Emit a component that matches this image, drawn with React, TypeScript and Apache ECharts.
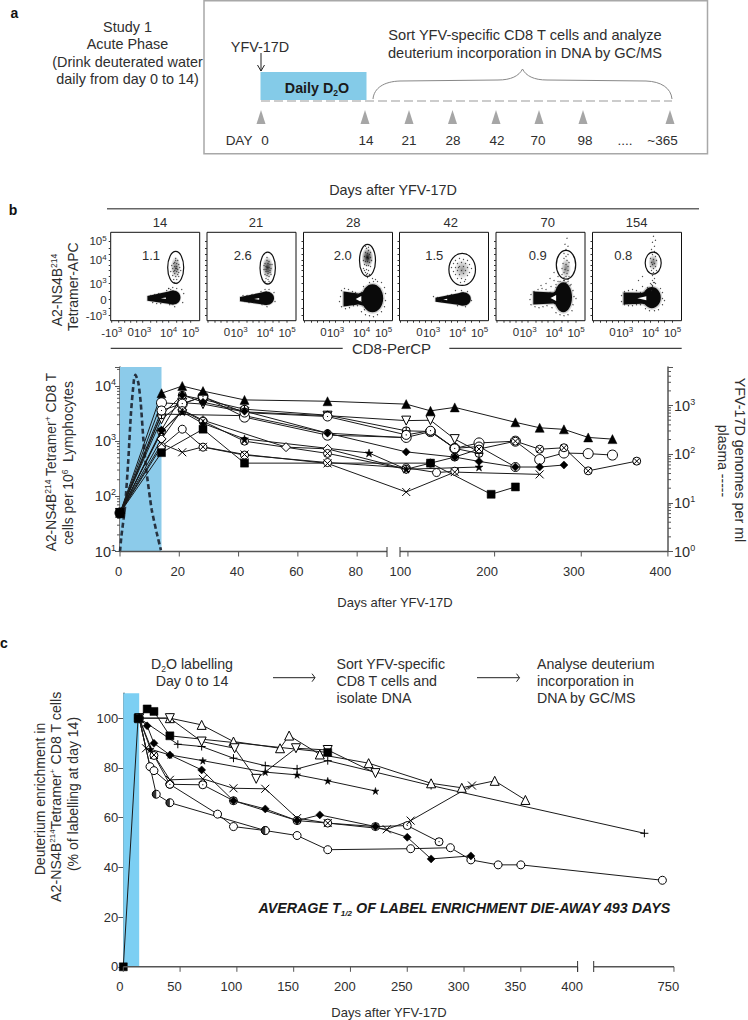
import React, { useEffect, useRef } from "react";
import * as echarts from "echarts";

// ---------- panel a / titles ----------
const scheduleDays = ["0", "14", "21", "28", "42", "70", "98", "....", "~365"];
const facsTitles = ["14", "21", "28", "42", "70", "154"];
const facsGatePct = ["1.1", "2.6", "2.0", "1.5", "0.9", "0.8"];

// ---------- panel b flow plots (channel units on a biexponential display) ----------
const facsLefts = [110.7, 207, 303.5, 399.5, 496, 592.5];
const facsXLabelAt = [1, 20, 32, 58, 80];
const facsXLabels = ["-10{s|3}", "0", "10{s|3}", "10{s|4}", "10{s|5}"];
const facsYLabelAt = [5, 21, 37, 60, 79];
const facsYLabels = ["-10{s|3}", "0", "10{s|3}", "10{s|4}", "10{s|5}"];
const facsMinorX = [8, 14, 26, 40, 46, 52, 66, 72];
const facsMinorY = [12, 29, 44, 50, 55, 66, 72];
// cx, cy, rx, ry
const gates = [
  [65, 53, 8, 16],
  [60.7, 52.4, 7.7, 16],
  [64, 60, 8, 16],
  [62.7, 51, 13.3, 16],
  [70, 55.7, 9.7, 14.3],
  [60.7, 57.4, 8, 11],
];
// density core of each gate: cx, cy, rx, ry, opacity
const gateCores = [
  [65, 53, 5, 11, 0.55],
  [60.7, 53, 5.5, 11, 0.8],
  [64, 63, 6, 10, 0.95],
  [62.7, 51, 8, 10, 0.4],
  [70, 52, 5, 10, 0.5],
  [60.7, 58, 5, 8, 0.55],
];
// tail start x, tail half height, body cx, cy, rx, ry, hole x, hole half w, hole half h, halo
const populations = [
  [36.7, 2.4, 62.7, 23, 7, 7, 52.7, 2.5, 0.8, 0.8],
  [33, 2.2, 59.7, 22.3, 7.3, 6.7, 49.7, 2.5, 0.8, 0.8],
  [40, 7.5, 69, 22.3, 10.7, 14, 55, 2.8, 3, 1.5],
  [36, 2, 64, 21.7, 7.3, 6.7, 45.7, 2, 0.8, 0.8],
  [37.3, 6.5, 67.3, 23.3, 8.7, 15, 57.3, 2.8, 3, 1.5],
  [31, 6, 59.3, 23, 9, 10.7, 49.3, 4.5, 2, 1.5],
];
const gateDots = [
  [[65,60],[63,57],[66,57],[68,56],[64,54],[66,54],[62,52],[65,52],[67,51],[69,53],[63,49],[66,49],[64,47],[67,46],[62,45],[65,44],[68,48],[61,55],[70,50],[65,62],[67,60],[63,41],[66,41],[64,58],[66,52],[64,50],[68,44],[60,49],[64,38],[66,37],[62,33],[58,32]],
  [[60,60],[62,59],[58,57],[61,57],[63,56],[59,54],[60,53],[62,53],[64,52],[57,51],[59,49],[61,49],[63,48],[58,46],[60,45],[62,44],[64,46],[59,42],[61,41],[57,55],[65,56],[60,63],[62,39],[58,39],[61,47],[59,51],[63,50],[60,37]],
  [[63,72],[65,70],[62,68],[64,67],[66,66],[61,64],[63,63],[65,62],[67,63],[60,60],[62,59],[64,59],[66,58],[68,60],[61,56],[63,55],[65,55],[67,54],[60,52],[63,51],[65,50],[62,48],[64,47],[66,46],[61,50],[63,46],[64,43],[65,73],[62,74],[67,68]],
  [[56,60],[60,62],[64,61],[68,60],[54,57],[58,57],[62,58],[66,57],[70,56],[52,53],[56,53],[60,54],[64,54],[68,53],[72,52],[54,49],[58,50],[62,50],[66,50],[70,48],[56,46],[60,46],[64,47],[68,45],[58,42],[62,42],[66,41],[61,38],[65,39],[59,53]],
  [[71,82],[69,76],[72,74],[70,71],[68,67],[72,66],[70,64],[68,62],[71,60],[73,58],[67,57],[70,56],[72,54],[66,52],[69,51],[72,50],[68,48],[71,47],[66,46],[70,44],[73,44],[68,43],[62,44],[58,48],[54,42],[72,41],[68,40],[70,38],[60,36],[74,35],[64,39]],
  [[61,84],[63,80],[60,78],[62,74],[59,71],[62,69],[60,66],[63,64],[58,62],[61,61],[64,60],[59,58],[62,57],[60,56],[63,54],[58,54],[61,52],[64,50],[59,50],[61,48],[63,47],[60,45],[62,42],[60,40],[61,38],[63,37],[59,36],[50,44],[46,40],[60,34]],
];
// stray events around the lymphocyte populations
const fringeDots = [
  [[40,25],[44,26],[48,27],[42,18],[46,17],[50,17],[56,30],[58,32],[60,31],[66,32],[71,31],[73,27],[72,18],[64,14],[59,16]],
  [[36,25],[40,25],[45,26],[38,19],[42,18],[47,18],[54,29],[58,31],[62,31],[67,28],[68,19],[60,14],[55,16]],
  [[38,30],[41,32],[45,31],[49,29],[52,28],[37,24],[36,19],[38,14],[42,12],[46,13],[50,15],[54,15],[58,9],[62,6],[66,5],[70,4],[74,6],[78,9],[81,14],[82,20],[82,27],[81,33],[78,38],[60,34],[58,28],[66,38],[70,39],[74,39],[57,19],[61,11],[54,26],[72,41],[69,42]],
  [[34,24],[38,23],[42,19],[48,25],[52,26],[56,30],[62,30],[68,29],[72,20],[66,14],[58,15]],
  [[35,26],[38,29],[42,31],[46,32],[50,31],[54,28],[34,21],[35,16],[39,14],[43,13],[47,14],[51,15],[56,13],[60,8],[64,6],[68,5],[72,6],[76,10],[77,16],[78,24],[77,30],[75,36],[60,33],[55,34],[50,37],[62,39],[68,40],[72,39],[58,40],[45,35],[80,22],[56,19]],
  [[29,25],[32,29],[36,30],[40,31],[44,30],[48,28],[29,19],[32,16],[36,15],[40,15],[44,16],[48,16],[53,12],[57,10],[62,10],[66,11],[70,16],[70,22],[70,28],[68,32],[60,35],[58,37],[62,38],[55,33],[50,34],[59,30],[72,20]],
];

// ---------- panel b main plot: days after vaccination, cells per 10^6 lymphocytes ----------
const bXTicks = [0, 20, 40, 60, 80, 100, 200, 300, 400];
const bTriFilled = [[0,50],[14,7400],[21,10000],[28,8100],[42,5600],[70,5300],[98,4700],[126,3550],[154,4100],[224,2200],[252,1750],[280,1640],[308,1170],[336,1090]];
const bSquare = [[0,50],[14,620],[28,1650],[42,400],[126,400],[196,109],[224,148]];
const bCircleLarge = [[0,50],[14,4980],[21,4700],[28,6500],[42,2730],[70,1285],[98,1170],[126,1490],[154,740],[182,930],[224,1000],[252,465],[280,610],[308,595],[336,560]];
const bCircleSmall = [[0,50],[14,800],[21,1650],[28,780],[42,560],[70,410],[98,330],[133,270],[154,285]];
const bCross = [[0,50],[14,900],[21,630],[28,790],[42,575],[70,395],[98,120],[154,275],[252,250]];
const bDiamondFilled = [[0,50],[14,1600],[21,6860],[28,5100],[42,3500],[70,1400],[98,640],[154,515],[182,430],[224,340],[252,340],[280,370]];
const bCircleCross = [[0,50],[14,1500],[21,3600],[28,2300],[42,1000],[70,600],[98,310],[126,400],[154,515],[182,720],[224,1000],[252,715],[280,760],[308,290],[364,435]];
const bCirclePlus = [[0,50],[14,3000],[21,6800],[28,5700],[42,3800],[70,2960],[98,1540],[126,1500],[154,740],[182,600]];
const bTriDown = [[0,50],[14,2500],[21,5000],[28,4700],[42,3400],[70,2900],[98,2360],[126,2400],[154,1090],[182,640]];
const bDiamondOpen = [[0,50],[14,1100],[21,3700],[28,2400],[56,780],[70,725],[98,310]];
const bStar = [[0,50],[14,1500],[21,3400],[28,2100],[42,1100],[84,610],[98,310],[182,340]];
const bDot = [[0,50],[14,3600],[21,4800],[28,6400],[42,3300],[70,2800],[98,1300],[126,1550],[154,740],[182,800],[224,340]];
const bFlat = [[0,50],[14,3100],[42,2900],[70,1400],[98,1150]];
const bStart = [[0,50]];
const bViral = [[0,1],[0.45,2],[1.7,8.4],[2.8,76],[3.7,700],[4.7,3360],[5.2,4270],[6.2,2900],[7,1130],[7.9,197],[9,41],[10.7,7.2],[12.4,2.4],[13.8,1.07]];
const bMinorLeft = [20,30,40,50,60,70,80,90,200,300,400,500,600,700,800,900,2000,3000,4000,5000,6000,7000,8000,9000,20000];
const bMinorRight = [2,3,4,5,6,7,8,9,20,30,40,50,60,70,80,90,200,300,400,500,600,700,800,900,2000,3000,4000,5000];
const labelWindow = [[0, 14]];

// ---------- panel c: days after vaccination, % of labelling at day 14 ----------
const cXTicks = [0, 50, 100, 150, 200, 250, 300, 350, 400, 750];
const cYTicks = [0, 20, 40, 60, 80, 100];
const cSquare = [[0,0],[13,100],[21,103.7],[27,102.7],[41,92.9],[180,86.2]];
const cTriUp = [[14,100],[41,100],[69,97.3],[97,90.6],[138,87.9],[146,93],[173,85.4],[216,81.9],[271,73.8],[298,72],[327,74.8],[354,67.1]];
const cTriDown = [[14,100],[41,100],[69,90.6],[98,87.9],[117,75.6],[152,87.9],[180,87.2],[222,77.9]];
const cPlus = [[14,100],[48,89.5],[69,88.6],[97,83.9],[125,80.9],[153,79.6],[180,82.9],[271,72.9],[640,53.7]];
const cStar = [[14,100],[24,87.5],[41,85.2],[70,82.9],[125,78.3],[153,77.2],[180,74.8],[222,70.7]];
const cDiamond = [[14,100],[21,96.9],[27,89.9],[41,85.2],[69,79.2],[97,66.8],[125,63.5],[153,58.8],[173,61.1],[222,56.4],[250,52.1],[271,43.4],[306,44.6]];
const cDot = [[14,100],[27,85],[41,73.4],[70,73.2],[97,66.8],[153,58.8],[180,57.8],[222,56.4],[250,56.8],[278,50.3]];
const cHalf = [[14,100],[29,69.4],[41,66],[125,54.8]];
const cOpen = [[14,100],[23.5,80.5],[27,78.9],[41,73.4],[83,61.4],[97,56.4],[125,54.8],[153,52.8],[180,47.1],[253,47.5],[288,47.9],[306,43],[330,41],[350,41],[707,34.8]];
const cCross = [[14,100],[20,87.9],[27,85.2],[41,75.2],[70,75.6],[97,71.8],[125,71.6],[153,59.8],[180,57.8],[232,55.3],[253,58.8],[307,72.9]];

const FONT = "Liberation Sans, Arial, sans-serif";
const INK = "#2e2e2e";
const AXIS = "#555555";
const HIDDEN_LINE = { show: false, onZero: false };

// broken x axes: left segment keeps days, right segment is compressed
const toB = (d: number) => (d <= 90 ? d : 94.5 + (d - 91) * 0.2923);
const toC = (d: number) => (d <= 400 ? d : 413.8 + (d - 450) * 0.2367);

const SYM = {
  cross: "path://M0 0L10 10M10 0L0 10",
  circleCross: "path://M0 5A5 5 0 1 1 10 5A5 5 0 1 1 0 5ZM1.5 1.5L8.5 8.5M8.5 1.5L1.5 8.5",
  circlePlus: "path://M0 5A5 5 0 1 1 10 5A5 5 0 1 1 0 5ZM0 5L10 5M5 0L5 10",
  circleDot: "path://M0 5A5 5 0 1 1 10 5A5 5 0 1 1 0 5ZM4.6 5L5.4 5M5 4.6L5 5.4",
  star: "path://M5 0L6.2 3.6L10 3.6L6.9 5.9L8.1 9.6L5 7.3L1.9 9.6L3.1 5.9L0 3.6L3.8 3.6Z",
  plus: "path://M0 5L10 5M5 0L5 10",
  halfDisc: "path://M5 0A5 5 0 0 0 5 10Z",
};

function lineSeries(name: string, data: number[][], axis: number, tx: (d: number) => number, symbol: string, size: number, filled: boolean, rotate = 0, yAxis = axis) {
  return {
    name,
    type: "line",
    xAxisIndex: axis,
    yAxisIndex: yAxis,
    data: data.map(([d, v]) => [tx(d), v]),
    symbol,
    symbolSize: size,
    symbolRotate: rotate,
    showAllSymbol: true,
    clip: false,
    z: 3,
    lineStyle: { color: "#1a1a1a", width: 1 },
    itemStyle: { color: filled ? "#000" : "#fff", borderColor: "#000", borderWidth: filled ? 0.5 : 1, opacity: 1 },
    emphasis: { disabled: true },
  };
}

function minorTicks(values: number[], axis: number, yAxis: number, atX: number, dir: number, len: number) {
  return {
    type: "custom",
    xAxisIndex: axis,
    yAxisIndex: yAxis,
    data: values.map((v) => [atX, v]),
    encode: { x: 0, y: 1 },
    silent: true,
    renderItem: (_p: any, api: any) => {
      const c = api.coord([api.value(0), api.value(1)]);
      return { type: "line", shape: { x1: c[0], y1: c[1], x2: c[0] + dir * len, y2: c[1] }, style: { stroke: AXIS, lineWidth: 1 } };
    },
  };
}

function xTicks(values: number[], axis: number, yAxis: number, atY: number, len: number, color: string) {
  return {
    type: "custom",
    xAxisIndex: axis,
    yAxisIndex: yAxis,
    data: values.map((v) => [v, atY]),
    encode: { x: 0, y: 1 },
    silent: true,
    z: 5,
    renderItem: (_p: any, api: any) => {
      const c = api.coord([api.value(0), api.value(1)]);
      return { type: "line", shape: { x1: c[0], y1: c[1], x2: c[0], y2: c[1] + len }, style: { stroke: color, lineWidth: 1 } };
    },
  };
}

function bandSeries(axis: number, yAxis: number, data: number[][], yLow: number, yHigh: number, tx: (d: number) => number, color: string) {
  return {
    type: "custom",
    xAxisIndex: axis,
    yAxisIndex: yAxis,
    data: data.map(([a, b]) => [tx(a), tx(b)]),
    encode: { x: [0, 1] },
    silent: true,
    z: 1,
    renderItem: (_p: any, api: any) => {
      const a = api.coord([api.value(0), yHigh]);
      const b = api.coord([api.value(1), yLow]);
      return { type: "rect", shape: { x: a[0], y: a[1], width: b[0] - a[0], height: b[1] - a[1] }, style: { fill: color } };
    },
  };
}

function facsSeries() {
  const out: any[] = [];
  facsLefts.forEach((_l, i) => {
    out.push(xTicks([...facsXLabelAt, ...facsMinorX], i, i, 0, 2, "#333"));
    out.push({
      type: "custom",
      xAxisIndex: i,
      yAxisIndex: i,
      data: [populations[i]],
      encode: { x: 0, y: 3 },
      silent: true,
      z: 2,
      renderItem: (_p: any, api: any) => {
        const v = (k: number) => api.value(k);
        const C = (x: number, y: number) => api.coord([x, y]);
        const body = C(v(2), v(3));
        const tail = C(v(0), v(3) - 0.8);
        const halo = v(9);
        const hole = C(v(6), v(3) - 0.6);
        const wide = v(1) > 4;
        const wedge = (g: number) => wide
          ? [
              [tail[0] - g, tail[1] - v(1) - g * 0.5],
              [hole[0], hole[1] - 5.5 - g],
              [body[0], body[1] - v(5) * 0.7 - g],
              [body[0], body[1] + v(5) * 0.7 + g],
              [hole[0], hole[1] + 5.5 + g],
              [tail[0] - g, tail[1] + v(1) + g * 0.5],
            ]
          : [
              [tail[0] - g, tail[1] - v(1) - g * 0.5],
              [body[0], body[1] - v(5) - g],
              [body[0], body[1] + v(5) + g],
              [tail[0] - g, tail[1] + v(1) + g * 0.5],
            ];
        return {
          type: "group",
          children: [
            { type: "polygon", shape: { points: wedge(halo) }, style: { fill: "#000", opacity: 0.16 } },
            { type: "ellipse", shape: { cx: body[0], cy: body[1], rx: v(4) + halo, ry: v(5) + halo }, style: { fill: "#000", opacity: 0.16 } },
            { type: "polygon", shape: { points: wedge(0) }, style: { fill: "#0a0a0a" } },
            { type: "ellipse", shape: { cx: body[0], cy: body[1], rx: v(4), ry: v(5) }, style: { fill: "#0a0a0a" } },
            {
              type: "polygon",
              shape: { points: [[hole[0] + v(7), hole[1] - v(8)], [hole[0] + v(7), hole[1] + v(8)], [hole[0] - v(7), hole[1]]] },
              style: { fill: "#fff" },
            },
          ],
        };
      },
    });
    out.push({
      type: "custom",
      xAxisIndex: i,
      yAxisIndex: i,
      data: [gateCores[i]],
      encode: { x: 0, y: 1 },
      silent: true,
      z: 2,
      renderItem: (_p: any, api: any) => {
        const c = api.coord([api.value(0), api.value(1)]);
        return {
          type: "ellipse",
          shape: { cx: c[0], cy: c[1], rx: api.value(2), ry: api.value(3) },
          style: {
            fill: new echarts.graphic.RadialGradient(0.5, 0.5, 0.5, [
              { offset: 0, color: `rgba(0,0,0,${api.value(4)})` },
              { offset: 1, color: "rgba(0,0,0,0)" },
            ]),
          },
        };
      },
    });
    out.push({
      type: "scatter",
      xAxisIndex: i,
      yAxisIndex: i,
      data: [...gateDots[i], ...fringeDots[i]],
      symbol: "circle",
      symbolSize: 1.3,
      silent: true,
      z: 3,
      itemStyle: { color: "#222" },
    });
    out.push({
      type: "custom",
      xAxisIndex: i,
      yAxisIndex: i,
      data: [gates[i]],
      encode: { x: 0, y: 1 },
      silent: true,
      z: 4,
      renderItem: (_p: any, api: any) => {
        const c = api.coord([api.value(0), api.value(1)]);
        return { type: "ellipse", shape: { cx: c[0], cy: c[1], rx: api.value(2), ry: api.value(3) }, style: { fill: "none", stroke: "#111", lineWidth: 1.2 } };
      },
    });
  });
  return out;
}

function buildOption() {
  const SUP = { s: { fontSize: 8, verticalAlign: "top", fontFamily: FONT, fill: INK, color: INK, lineHeight: 14 } };
  const xAxes: any[] = [];
  const yAxes: any[] = [];
  const grids: any[] = [];
  facsLefts.forEach((left, i) => {
    grids.push({ left, top: 232.3, width: 89, height: 88.4, show: true, borderColor: "#111", borderWidth: 1, backgroundColor: "#fff" });
    const xAt = i === 0 ? facsXLabelAt : facsXLabelAt.slice(1);
    const xTxt = i === 0 ? facsXLabels : facsXLabels.slice(1);
    xAxes.push({
      type: "value", gridIndex: i, min: 0, max: 89, splitLine: { show: false }, axisLine: HIDDEN_LINE,
      axisTick: { show: false },
      axisLabel: {
        customValues: xAt, margin: 5, fontSize: 11.5, color: INK, fontFamily: FONT, rich: SUP, hideOverlap: false,
        formatter: (v: number) => xTxt[xAt.indexOf(v)] ?? "",
      },
    });
    yAxes.push({
      type: "value", gridIndex: i, min: 0, max: 88, splitLine: { show: false }, axisLine: HIDDEN_LINE,
      axisTick: { show: true, length: 2, customValues: [...facsYLabelAt, ...facsMinorY], lineStyle: { color: "#333", width: 1 } },
      axisLabel: i === 0 ? {
        customValues: facsYLabelAt, margin: 4, fontSize: 11.5, color: INK, fontFamily: FONT, rich: SUP,
        formatter: (v: number) => facsYLabels[facsYLabelAt.indexOf(v)] ?? "",
      } : { show: false },
    });
  });

  // main plot b = grid 6
  grids.push({ left: 120, top: 367, width: 548, height: 184.5 });
  xAxes.push({
    type: "value", gridIndex: 6, min: 0, max: 184.85, splitLine: { show: false }, axisLine: HIDDEN_LINE,
    axisTick: { show: false },
    axisLabel: {
      customValues: bXTicks.map(toB), margin: 13, fontSize: 13, color: INK, fontFamily: FONT,
      rich: { p: { padding: [0, 15, 0, 0], fontSize: 13, fontFamily: FONT, color: INK }, q: { padding: [0, 3, 0, 0], fontSize: 13, fontFamily: FONT, color: INK } },
      formatter: (v: number) => {
        const d = bXTicks[bXTicks.map(toB).indexOf(v)];
        return d >= 100 ? `{p|${d}}` : `{q|${d}}`;
      },
    },
  });
  const logFmt = (v: number) => {
    const l = Math.log10(v);
    return Math.abs(l - Math.round(l)) < 1e-6 ? `10{s|${Math.round(l)}}` : "";
  };
  const SUP2 = { s: { fontSize: 9, verticalAlign: "top", fontFamily: FONT, color: INK, lineHeight: 17 } };
  yAxes.push({
    type: "log", gridIndex: 6, min: 10, max: 22130, logBase: 10, position: "left", splitLine: { show: false },
    axisLine: { show: true, onZero: false, lineStyle: { color: AXIS, width: 1.5 } },
    axisTick: { show: true, length: 5, lineStyle: { color: AXIS, width: 1 } },
    axisLabel: { margin: 4, fontSize: 14.5, color: INK, fontFamily: FONT, rich: SUP2, formatter: logFmt },
  });
  yAxes.push({
    type: "log", gridIndex: 6, min: 1, max: 6190, logBase: 10, position: "right", splitLine: { show: false },
    axisLine: { show: true, onZero: false, lineStyle: { color: AXIS, width: 1.5 } },
    axisTick: { show: true, length: 5, lineStyle: { color: AXIS, width: 1 } },
    axisLabel: { margin: 6, fontSize: 14.5, color: INK, fontFamily: FONT, rich: SUP2, formatter: logFmt },
  });

  // panel c = grid 7
  grids.push({ left: 123.3, top: 693.3, width: 550.7, height: 273.5 });
  xAxes.push({
    type: "value", gridIndex: 7, min: 0, max: 484.85, splitLine: { show: false }, axisLine: HIDDEN_LINE,
    axisTick: { show: false },
    axisLabel: {
      customValues: cXTicks.map(toC), margin: 13, fontSize: 13, color: INK, fontFamily: FONT,
      rich: {
        p: { padding: [0, 11, 0, 0], fontSize: 13, fontFamily: FONT, color: INK },
        q: { padding: [0, 7, 0, 0], fontSize: 13, fontFamily: FONT, color: INK },
      },
      formatter: (v: number) => {
        const d = cXTicks[cXTicks.map(toC).indexOf(v)];
        return d === 0 ? `{q|${d}}` : `{p|${d}}`;
      },
    },
  });
  yAxes.push({
    type: "value", gridIndex: 7, min: 0, max: 110, splitLine: { show: false },
    axisLine: { show: true, onZero: false, lineStyle: { color: AXIS, width: 1.5 } },
    axisTick: { show: true, length: 5, customValues: cYTicks, lineStyle: { color: AXIS, width: 1 } },
    axisLabel: { customValues: cYTicks, margin: 5, fontSize: 13, color: INK, fontFamily: FONT },
  });

  const series: any[] = [
    ...facsSeries(),
    bandSeries(6, 6, labelWindow, 10, 22130, toB, "#8ccbea"),
    xTicks(bXTicks.map(toB), 6, 6, 10, 5, AXIS),
    minorTicks(bMinorLeft, 6, 6, 0, -1, 3),
    minorTicks(bMinorRight, 6, 7, 184.85, 1, 3),
    {
      type: "line", name: "viral", xAxisIndex: 6, yAxisIndex: 7, data: bViral.map(([d, v]) => [toB(d), v]), symbol: "none", z: 2,
      smooth: 0.2, lineStyle: { color: "#263240", width: 2.6, type: [5, 3] },
    },
    lineSeries("flat", bFlat, 6, toB, "circle", 7, false, 0, 6),
    lineSeries("diamondOpen", bDiamondOpen, 6, toB, "diamond", 9, false, 0, 6),
    lineSeries("circleSmall", bCircleSmall, 6, toB, "circle", 8, false, 0, 6),
    lineSeries("circleLarge", bCircleLarge, 6, toB, "circle", 10, false, 0, 6),
    lineSeries("triDown", bTriDown, 6, toB, "triangle", 9, false, 180, 6),
    lineSeries("circlePlus", bCirclePlus, 6, toB, SYM.circlePlus, 8, false, 0, 6),
    lineSeries("dot", bDot, 6, toB, SYM.circleDot, 9, false, 0, 6),
    lineSeries("circleCross", bCircleCross, 6, toB, SYM.circleCross, 8, false, 0, 6),
    lineSeries("cross", bCross, 6, toB, SYM.cross, 8, false, 0, 6),
    lineSeries("star", bStar, 6, toB, SYM.star, 8, true, 0, 6),
    lineSeries("diamondFilled", bDiamondFilled, 6, toB, "diamond", 8, true, 0, 6),
    lineSeries("square", bSquare, 6, toB, "rect", 8, true, 0, 6),
    lineSeries("triFilled", bTriFilled, 6, toB, "triangle", 9, true, 0, 6),
    lineSeries("start", bStart, 6, toB, "circle", 9, true, 0, 6),

    bandSeries(7, 8, labelWindow, 0, 110, toC, "#7ccff3"),
    xTicks(cXTicks.map(toC), 7, 8, 0, 5, AXIS),
    lineSeries("cOpen", cOpen, 7, toC, "circle", 8, false, 0, 8),
    lineSeries("cHalf", cHalf, 7, toC, "circle", 8, false, 0, 8),
    {
      type: "scatter", xAxisIndex: 7, yAxisIndex: 8, data: cHalf.slice(1).map(([d, v]) => [toC(d), v]), symbol: SYM.halfDisc,
      symbolSize: [4, 8], symbolOffset: [-2, 0], symbolKeepAspect: false, z: 4, silent: true, itemStyle: { color: "#000" },
    },
    lineSeries("cDot", cDot, 7, toC, SYM.circleDot, 8, false, 0, 8),
    lineSeries("cPlus", cPlus, 7, toC, SYM.plus, 8, false, 0, 8),
    lineSeries("cTriUp", cTriUp, 7, toC, "triangle", 9, false, 0, 8),
    lineSeries("cTriDown", cTriDown, 7, toC, "triangle", 9, false, 180, 8),
    lineSeries("cCross", cCross, 7, toC, SYM.cross, 8, false, 0, 8),
    lineSeries("cStar", cStar, 7, toC, SYM.star, 7, true, 0, 8),
    lineSeries("cDiamond", cDiamond, 7, toC, "diamond", 8, true, 0, 8),
    lineSeries("cSquare", cSquare, 7, toC, "rect", 8, true, 0, 8),
  ];

  // ---------- schematic / annotation graphics ----------
  const g: any[] = [];
  const text = (s: string, x: number, y: number, o: any = {}) =>
    g.push({
      type: "text", x, y, rotation: o.rotation ?? 0, z: 50, silent: true,
      style: {
        text: s, fontFamily: FONT, fontSize: o.size ?? 13, fontWeight: o.weight ?? "normal", fontStyle: o.italic ? "italic" : "normal",
        fill: o.fill ?? INK, align: o.align ?? "center", verticalAlign: "middle", rich: o.rich, lineHeight: o.lineHeight,
      },
    });
  const line = (x1: number, y1: number, x2: number, y2: number, stroke = "#222", w = 1, extra: any = {}) =>
    g.push({ type: "line", silent: true, z: 40, shape: { x1, y1, x2, y2 }, style: { stroke, lineWidth: w, ...extra } });
  const curve = (a: number[]) =>
    g.push({ type: "bezierCurve", silent: true, z: 40, shape: { x1: a[0], y1: a[1], cpx1: a[2], cpy1: a[3], cpx2: a[4], cpy2: a[5], x2: a[6], y2: a[7] }, style: { stroke: "#888", lineWidth: 1, fill: "none" } });
  const arrowR = (x1: number, x2: number, y: number) => {
    line(x1, y, x2, y, "#222", 1);
    g.push({ type: "polyline", silent: true, z: 40, shape: { points: [[x2 - 3, y - 4], [x2, y], [x2 - 3, y + 4]] }, style: { stroke: "#222", lineWidth: 1, fill: "none" } });
  };

  // panel a
  text("a", 14.5, 13, { weight: "bold", size: 14, fill: "#111" });
  g.push({ type: "rect", silent: true, z: 10, shape: { x: 204, y: 0.8, width: 503.5, height: 153 }, style: { fill: "none", stroke: "#a8a8a8", lineWidth: 1.5 } });
  text("Study 1", 127.5, 27, { size: 14.4 });
  text("Acute Phase", 127.5, 44, { size: 14.4 });
  text("(Drink deuterated water", 127.5, 61.5, { size: 14.4 });
  text("daily from day 0 to 14)", 127.5, 79, { size: 14.4 });
  text("YFV-17D", 260, 46.5, { size: 14.4 });
  line(261, 53, 261, 71, "#222", 1);
  g.push({ type: "polyline", silent: true, z: 40, shape: { points: [[257.5, 65], [261, 71], [264.5, 65]] }, style: { stroke: "#222", lineWidth: 1, fill: "none" } });
  g.push({ type: "rect", silent: true, z: 10, shape: { x: 260.5, y: 72, width: 106, height: 28 }, style: { fill: "#84cbe8" } });
  text("Daily D{d|2}O", 317, 88, { weight: "bold", size: 14.3, fill: "#1a1a1a", rich: { d: { fontSize: 8.5, fontWeight: "bold", verticalAlign: "bottom", lineHeight: 18, fill: "#1a1a1a", fontFamily: FONT } } });
  line(261, 101, 672, 101, "#999", 1.2, { lineDash: [9, 4] });
  curve([373, 99, 374, 88, 384, 81.5, 400, 81]);
  line(400, 81, 498, 80, "#888", 1);
  curve([498, 80, 511, 80, 519, 76, 522.5, 69]);
  curve([522.5, 69, 526, 76, 534, 80, 547, 80]);
  line(547, 80, 646, 81, "#888", 1);
  curve([646, 81, 661, 81.5, 671, 88, 672, 99]);
  [261, 365, 409, 452.5, 496, 539, 583, 670].forEach((x) =>
    g.push({ type: "polygon", silent: true, z: 40, shape: { points: [[x - 4.5, 124], [x, 110], [x + 4.5, 124]] }, style: { fill: "#a6a6a6" } })
  );
  text("DAY", 239, 140, { size: 13.5 });
  [265, 366, 409, 453, 497, 538, 585, 625, 662.5].forEach((x, i) => text(scheduleDays[i], x, 140, { size: 13.5 }));
  text("Sort YFV-specific CD8 T cells and analyze", 525, 35, { size: 14.6 });
  text("deuterium incorporation in DNA by GC/MS", 525, 52.7, { size: 14.6 });

  // panel b header
  text("b", 13, 210, { weight: "bold", size: 14, fill: "#111" });
  text("Days after YFV-17D", 393, 190, { size: 14.4 });
  line(107, 208.7, 699, 208.7, "#666", 1.5);
  [160, 256, 353.3, 450.7, 547.7, 636.7].forEach((x, i) => text(facsTitles[i], x, 222, { size: 13 }));
  [[151, 255.7], [242.7, 255.7], [342.7, 255.7], [434.3, 255], [537.7, 255], [623.3, 255]].forEach((p, i) => text(facsGatePct[i], p[0], p[1], { size: 13 }));
  const supS = { s: { fontSize: 8.5, verticalAlign: "top", lineHeight: 16, fill: INK, fontFamily: FONT } };
  text("A2-NS4B{s|214}", 57, 290, { size: 14, rotation: Math.PI / 2, rich: supS });
  text("Tetramer-APC", 72.7, 286.7, { size: 14, rotation: Math.PI / 2 });
  text("CD8-PerCP", 391.5, 348, { size: 15 });
  line(110.7, 348.3, 342.7, 348.3, "#111", 1);
  line(449.3, 348.3, 681.7, 348.3, "#111", 1);

  // panel b main plot
  line(120, 551.5, 387, 551.5, AXIS, 1.5);
  line(400, 551.5, 668, 551.5, AXIS, 1.5);
  line(387, 547, 387, 557, "#333", 1);
  line(400, 547, 400, 557, "#333", 1);
  text("A2-NS4B{s|214} Tetramer{s|+} CD8 T", 51, 462, { size: 13.8, rotation: Math.PI / 2, rich: supS });
  text("cells per 10{s|6}  Lymphocytes", 68, 463, { size: 13.8, rotation: Math.PI / 2, rich: supS });
  text("YFV-17D genomes per ml", 740, 460, { size: 14.3, rotation: -Math.PI / 2 });
  text("plasma -----", 723, 461, { size: 14, rotation: -Math.PI / 2 });
  text("Days after YFV-17D", 395, 602, { size: 13 });

  // panel c
  text("c", 4, 643, { weight: "bold", size: 14, fill: "#111" });
  text("D{d|2}O labelling", 192, 664, { size: 14.2, rich: { d: { fontSize: 8.5, verticalAlign: "bottom", lineHeight: 18, fill: INK, fontFamily: FONT } } });
  text("Day 0 to 14", 192, 681, { size: 14.2 });
  ["Sort YFV-specific", "CD8 T cells and", "isolate DNA"].forEach((s, i) => text(s, 336.5, 664 + i * 17, { align: "left", size: 14.2 }));
  ["Analyse deuterium", "incorporation in", "DNA by GC/MS"].forEach((s, i) => text(s, 537, 664 + i * 17, { align: "left", size: 14.2 }));
  arrowR(273, 315, 677.7);
  arrowR(477, 519.5, 677.7);
  line(123.3, 966.8, 577.6, 966.8, AXIS, 1.5);
  line(593.7, 966.8, 674, 966.8, AXIS, 1.5);
  line(577.6, 961, 577.6, 972, "#333", 1);
  line(593.7, 961, 593.7, 972, "#333", 1);
  text("Deuterium enrichment in", 39.5, 799, { size: 14, rotation: Math.PI / 2 });
  text("A2-NS4B{s|214}Tetramer{s|+} CD8 T cells", 56, 796.7, { size: 14.2, rotation: Math.PI / 2, rich: { s: { fontSize: 8, verticalAlign: "top", lineHeight: 16, fill: INK, fontFamily: FONT } } });
  text("(% of labelling at day 14)", 73, 794, { size: 14, rotation: Math.PI / 2 });
  text("AVERAGE T{d|1/2} OF LABEL ENRICHMENT DIE-AWAY 493 DAYS", 464.5, 908.3, {
    size: 14.3, weight: "bold", italic: true, fill: "#1a1a1a",
    rich: { d: { fontSize: 8, fontWeight: "bold", fontStyle: "italic", verticalAlign: "bottom", lineHeight: 18, fill: "#1a1a1a", fontFamily: FONT } },
  });
  text("Days after YFV-17D", 389, 1012, { size: 13 });

  return { animation: false, backgroundColor: "#fff", grid: grids, xAxis: xAxes, yAxis: yAxes, series, graphic: { elements: g } };
}

export default function App() {
  const ref = useRef<HTMLDivElement>(null);
  useEffect(() => {
    if (!ref.current) return;
    const chart = echarts.init(ref.current, null, { renderer: "svg" });
    chart.setOption(buildOption() as any);
    return () => chart.dispose();
  }, []);
  return <div ref={ref} style={{ position: "fixed", left: 0, top: 0, width: 748, height: 1020 }} />;
}
